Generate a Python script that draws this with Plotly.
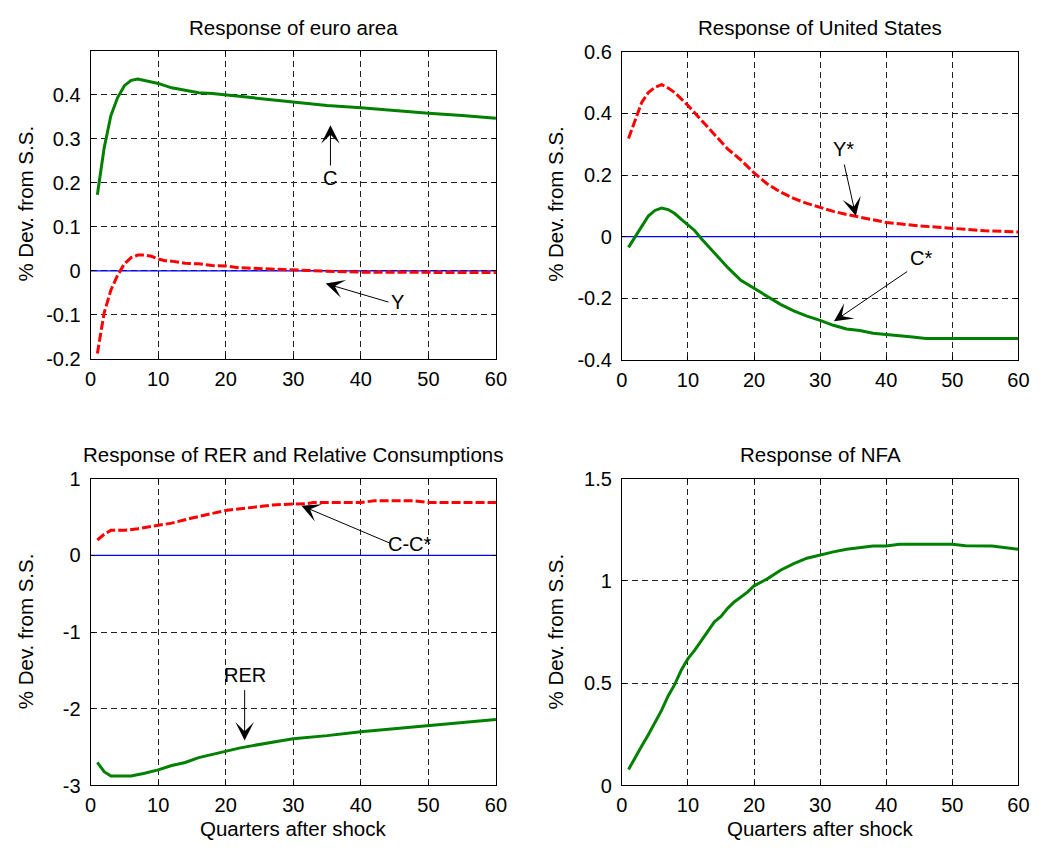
import plotly.graph_objects as go

# ---------------- data ----------------
quarters_ticks = [0, 10, 20, 30, 40, 50, 60]

euro_C_x = [1, 2, 3, 4, 5, 6, 7, 8, 9, 10, 12, 14, 16, 18, 20, 25, 30, 35, 40, 45, 50, 55, 60]
euro_C_y = [0.173, 0.279, 0.353, 0.394, 0.421, 0.433, 0.436, 0.433, 0.430, 0.426, 0.416, 0.411,
            0.405, 0.403, 0.400, 0.392, 0.384, 0.376, 0.371, 0.364, 0.358, 0.353, 0.347]

euro_Y_x = [1, 2, 3, 4, 5, 6, 7, 8, 9, 10, 11, 12, 14, 16, 18, 20, 22, 25, 28, 30, 35, 40, 50, 60]
euro_Y_y = [-0.188, -0.096, -0.044, -0.010, 0.016, 0.030, 0.036, 0.036, 0.033, 0.027, 0.023, 0.022,
            0.017, 0.016, 0.012, 0.011, 0.007, 0.005, 0.004, 0.001, -0.001, -0.003, -0.003, -0.004]

us_Ystar_x = [1, 2, 3, 4, 5, 6, 7, 8, 9, 10, 12, 14, 16, 18, 20, 22, 24, 26, 28, 30, 32, 34, 36,
              40, 45, 50, 55, 60]
us_Ystar_y = [0.319, 0.380, 0.436, 0.468, 0.485, 0.494, 0.483, 0.468, 0.447, 0.426, 0.379, 0.332,
              0.285, 0.249, 0.207, 0.171, 0.145, 0.124, 0.108, 0.095, 0.082, 0.072, 0.064,
              0.046, 0.035, 0.027, 0.019, 0.015]

us_Cstar_x = [1, 2, 3, 4, 5, 6, 7, 8, 9, 10, 11, 12, 14, 16, 18, 20, 22, 24, 26, 28, 30, 32, 34,
              36, 38, 40, 42, 44, 46, 50, 55, 60]
us_Cstar_y = [-0.035, 0.000, 0.035, 0.067, 0.085, 0.093, 0.088, 0.075, 0.056, 0.039, 0.020, -0.006,
              -0.053, -0.100, -0.142, -0.168, -0.192, -0.220, -0.241, -0.258, -0.272, -0.288,
              -0.300, -0.305, -0.314, -0.319, -0.322, -0.326, -0.331, -0.331, -0.331, -0.331]

rel_CC_x = [1, 2, 3, 5, 7, 10, 12, 15, 20, 25, 27, 30, 32, 33, 40, 42, 48, 50, 60]
rel_CC_y = [0.20, 0.275, 0.326, 0.326, 0.347, 0.394, 0.420, 0.487, 0.585, 0.636, 0.657, 0.670,
            0.674, 0.690, 0.690, 0.710, 0.710, 0.690, 0.690]

rer_x = [1, 2, 3, 6, 8, 10, 12, 14, 16, 18, 20, 22, 24, 26, 28, 30, 35, 40, 45, 50, 55, 60]
rer_y = [-2.70, -2.82, -2.877, -2.877, -2.84, -2.797, -2.74, -2.70, -2.636, -2.593, -2.55, -2.513,
         -2.48, -2.445, -2.42, -2.39, -2.35, -2.30, -2.26, -2.216, -2.18, -2.14]

nfa_x = [1, 2, 3, 4, 5, 6, 7, 8, 9, 10, 11, 12, 13, 14, 15, 16, 17, 18, 19, 20, 22, 24, 26, 28,
         30, 32, 34, 36, 38, 40, 42, 50, 52, 56, 58, 60]
nfa_y = [0.078, 0.138, 0.193, 0.248, 0.304, 0.367, 0.438, 0.494, 0.565, 0.620, 0.660, 0.707,
         0.755, 0.800, 0.826, 0.866, 0.897, 0.921, 0.945, 0.976, 1.010, 1.052, 1.084, 1.111,
         1.127, 1.142, 1.155, 1.163, 1.171, 1.171, 1.179, 1.179, 1.172, 1.171, 1.163, 1.155]

tl_ticks = [-0.2, -0.1, 0, 0.1, 0.2, 0.3, 0.4]
tl_labels = ["-0.2", "-0.1", "0", "0.1", "0.2", "0.3", "0.4"]
tr_ticks = [-0.4, -0.2, 0, 0.2, 0.4, 0.6]
tr_labels = ["-0.4", "-0.2", "0", "0.2", "0.4", "0.6"]
bl_ticks = [-3, -2, -1, 0, 1]
bl_labels = ["-3", "-2", "-1", "0", "1"]
br_ticks = [0, 0.5, 1, 1.5]
br_labels = ["0", "0.5", "1", "1.5"]

titles = ["Response of euro area", "Response of United States",
          "Response of RER and Relative Consumptions", "Response of NFA"]

# ---------------- figure ----------------
W, H = 1053, 853
FONT = "Liberation Sans, Arial, sans-serif"
GREEN = "#008000"
RED = "#FF0000"
BLUE = "#0000FF"
TXT = 20.5
TICK = 20

def px_x(a, b):
    return [a / W, b / W]

def px_y(top, bottom):
    return [1 - bottom / H, 1 - top / H]

fig = go.Figure()

panels = {
    1: dict(xd=px_x(86, 498), yd=px_y(41, 357), yr=[-0.2, 0.4999], tv=tl_ticks, tt=tl_labels),
    2: dict(xd=px_x(626, 1029), yd=px_y(42, 358), yr=[-0.4, 0.6], tv=tr_ticks, tt=tr_labels),
    3: dict(xd=px_x(86, 498), yd=px_y(480, 795), yr=[-3, 1], tv=bl_ticks, tt=bl_labels),
    4: dict(xd=px_x(626, 1029), yd=px_y(480, 795), yr=[0, 1.5], tv=br_ticks, tt=br_labels),
}

layout = dict(width=W, height=H, margin=dict(l=0, r=0, t=0, b=0),
              paper_bgcolor="white", plot_bgcolor="white", showlegend=False,
              font=dict(family=FONT, size=TXT, color="black"))

for i, p in panels.items():
    sx = "" if i == 1 else str(i)
    layout["xaxis" + sx] = dict(
        domain=p["xd"], range=[0, 60], tickvals=quarters_ticks,
        ticktext=[str(v) for v in quarters_ticks], anchor="y" + sx,
        showline=True, linecolor="black", linewidth=1, mirror="ticks",
        ticks="inside", ticklen=4, tickcolor="black", ticklabelstandoff=2,
        showgrid=True, gridcolor="#222222", gridwidth=0.8, griddash="6px,4px",
        zeroline=False, tickfont=dict(size=TICK, family=FONT))
    layout["yaxis" + sx] = dict(
        domain=p["yd"], range=p["yr"], tickvals=p["tv"], ticktext=p["tt"], anchor="x" + sx,
        showline=True, linecolor="black", linewidth=1, mirror="ticks",
        ticks="inside", ticklen=4, tickcolor="black", ticklabelstandoff=5,
        showgrid=True, gridcolor="#222222", gridwidth=0.8, griddash="6px,4px",
        zeroline=False, tickfont=dict(size=TICK, family=FONT))

fig.update_layout(**layout)

def add_line(x, y, panel, color, dash=None, width=3):
    sx = "" if panel == 1 else str(panel)
    fig.add_trace(go.Scatter(x=x, y=y, mode="lines", xaxis="x" + sx, yaxis="y" + sx,
                             line=dict(color=color, width=width, dash=dash),
                             hoverinfo="skip"))

zero_x = [0, 60]
zero_y = [0, 0]
for pnl in (1, 2, 3, 4):
    add_line(zero_x, zero_y, pnl, BLUE, width=1.2)

add_line(euro_C_x, euro_C_y, 1, GREEN)
add_line(euro_Y_x, euro_Y_y, 1, RED, dash="9px,3px")
add_line(us_Ystar_x, us_Ystar_y, 2, RED, dash="9px,3px")
add_line(us_Cstar_x, us_Cstar_y, 2, GREEN)
add_line(rel_CC_x, rel_CC_y, 3, RED, dash="9px,3px")
add_line(rer_x, rer_y, 3, GREEN)
add_line(nfa_x, nfa_y, 4, GREEN)

ann = []
# titles
title_pos = [((86 + 498) / 2, 17), ((626 + 1029) / 2, 17), ((86 + 498) / 2, 455), ((626 + 1029) / 2, 455)]
for t, (cx, cy) in zip(titles, title_pos):
    ann.append(dict(text=t, x=cx / W, y=1 - cy / H, xref="paper", yref="paper",
                    showarrow=False, font=dict(size=TXT, family=FONT), xanchor="center", yanchor="middle"))
# y-axis labels
for cx, cy in [(20, 198), (559, 198), (20, 637), (559, 637)]:
    ann.append(dict(text="% Dev. from S.S.", x=cx / W, y=1 - cy / H, xref="paper", yref="paper",
                    showarrow=False, textangle=-90, font=dict(size=TXT, family=FONT),
                    xanchor="center", yanchor="middle"))
# x-axis labels
for cx in [(86 + 498) / 2, (626 + 1029) / 2]:
    ann.append(dict(text="Quarters after shock", x=cx / W, y=1 - 839 / H, xref="paper", yref="paper",
                    showarrow=False, font=dict(size=TXT, family=FONT), xanchor="center", yanchor="middle"))

def arrow(panel, head, tail, label, label_pos):
    sx = "" if panel == 1 else str(panel)
    ann.append(dict(text="", x=head[0], y=head[1], ax=tail[0], ay=tail[1],
                    xref="x" + sx, yref="y" + sx, axref="x" + sx, ayref="y" + sx,
                    showarrow=True, arrowhead=3, arrowsize=3.1, arrowwidth=1,
                    arrowcolor="black", standoff=0, startstandoff=0))
    ann.append(dict(text=label, x=label_pos[0], y=label_pos[1], xref="x" + sx, yref="y" + sx,
                    showarrow=False, font=dict(size=TICK, family=FONT),
                    xanchor="center", yanchor="middle"))

arrow(1, (35.5, 0.331), (35.5, 0.236), "C", (35.5, 0.21))
arrow(1, (34.8, -0.029), (44.3, -0.072), "Y", (45.4, -0.070))
arrow(2, (35.4, 0.067), (33.6, 0.239), "Y*", (33.6, 0.285))
arrow(2, (32.1, -0.275), (43.4, -0.110), "C*", (45.2, -0.069))
arrow(3, (31.2, 0.648), (44.6, 0.148), "C-C*", (47.3, 0.148))
arrow(3, (22.8, -2.415), (22.8, -1.737), "RER", (22.8, -1.555))

fig.update_layout(annotations=ann)

fig.write_html("out.html", config={"displayModeBar": False},
               post_script="document.body.style.margin='0';document.body.style.overflow='hidden';")
